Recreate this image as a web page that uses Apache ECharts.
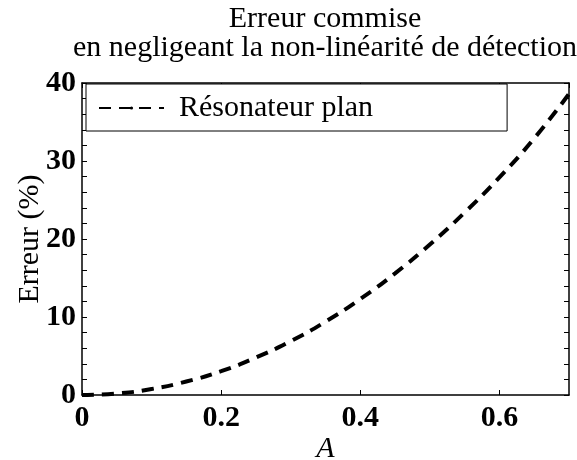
<!DOCTYPE html>
<html>
<head>
    <meta charset="UTF-8">
    <title>Erreur commise</title>
    <script type="text/javascript" src="https://cdn.jsdelivr.net/npm/echarts@6/dist/echarts.min.js"></script>
</head>
<body style="margin: 0;padding: 0;">
    <div id="container" style="width:577px; height:460px;"></div>
    <script>
        // valeurs
        var ampl = [0, 0.05, 0.1, 0.15, 0.2, 0.25, 0.3, 0.35, 0.4, 0.45, 0.5, 0.55, 0.6, 0.65, 0.7];
        var erreur = [0, 0.19, 0.77, 1.73, 3.05, 4.8, 6.9, 9.4, 12.3, 15.6, 19.3, 23.4, 27.9, 32.9, 38.6];
        var xTicks = [0, 0.2, 0.4, 0.6];
        var yTicks = [0, 10, 20, 30, 40];
        var serieName = "Résonateur plan";

        var font = "'Liberation Serif', 'Times New Roman', serif";
        var chart = echarts.init(document.getElementById('container'), null, {renderer: 'canvas'});

        function axisBase(extra) {
            var base = {
                type: 'value',
                axisLine: {show: true, onZero: false, lineStyle: {color: '#000', width: 1.5}},
                axisTick: {show: true, inside: true, length: 5, lineStyle: {color: '#000'}},
                splitLine: {show: false},
                axisLabel: {show: false}
            };
            return Object.assign(base, extra);
        }

        var option = {
            animation: false,
            title: {
                text: 'Erreur commise\nen negligeant la non-linéarité de détection',
                left: 320,
                textAlign: 'center',
                top: 0,
                textStyle: {fontFamily: font, fontSize: 30, fontWeight: 'normal', color: '#000', lineHeight: 29}
            },
            grid: {left: 82, right: 8, top: 83, bottom: 65, containLabel: false, outerBoundsMode: 'none'},
            legend: {
                data: [{name: serieName}],
                left: 86,
                top: 84,
                orient: 'horizontal',
                itemWidth: 65,
                itemHeight: 4,
                itemGap: 10,
                padding: [9, 134, 8, 12],
                borderColor: '#000',
                borderWidth: 1,
                backgroundColor: '#fff',
                textStyle: {fontFamily: font, fontSize: 30, color: '#000', padding: [0, 0, 0, 10]}
            },
            xAxis: [
                axisBase({
                    min: 0, max: 0.7, interval: 0.2,
                    position: 'bottom',
                    name: 'A',
                    nameLocation: 'middle',
                    nameGap: 39,
                    nameMoveOverlap: false,
                    nameTextStyle: {fontFamily: font, fontSize: 30, fontStyle: 'italic', color: '#000'},
                    axisLabel: {
                        show: true, margin: 8, fontFamily: font, fontSize: 30, fontWeight: 'bold', color: '#000',
                        showMaxLabel: false,
                        formatter: function (v) { return xTicks.indexOf(Math.round(v * 10) / 10) >= 0 ? String(Math.round(v * 10) / 10) : ''; }
                    }
                }),
                axisBase({min: 0, max: 0.7, interval: 0.2, position: 'top'})
            ],
            yAxis: [
                axisBase({
                    min: 0, max: 40, interval: 10,
                    position: 'left',
                    name: 'Erreur (%)',
                    nameLocation: 'middle',
                    nameGap: 37,
                    nameMoveOverlap: false,
                    nameTextStyle: {fontFamily: font, fontSize: 30, color: '#000'},
                    minorTick: {show: true, splitNumber: 5, length: 5, lineStyle: {color: '#000'}},
                    axisLabel: {
                        show: true, margin: 6, fontFamily: font, fontSize: 30, fontWeight: 'bold', color: '#000',
                        formatter: function (v) { return yTicks.indexOf(v) >= 0 ? String(v) : ''; }
                    }
                }),
                axisBase({
                    min: 0, max: 40, interval: 10, position: 'right',
                    minorTick: {show: true, splitNumber: 5, length: 5, lineStyle: {color: '#000'}}
                })
            ],
            series: [{
                name: serieName,
                type: 'line',
                xAxisIndex: 0,
                yAxisIndex: 0,
                smooth: true,
                showSymbol: false,
                symbol: 'none',
                data: ampl.map(function (a, i) { return [a, erreur[i]]; }),
                lineStyle: {color: '#000', width: 4, type: [12, 8]},
                itemStyle: {color: '#000'}
            }]
        };
        chart.setOption(option);
    </script>
</body>
</html>
